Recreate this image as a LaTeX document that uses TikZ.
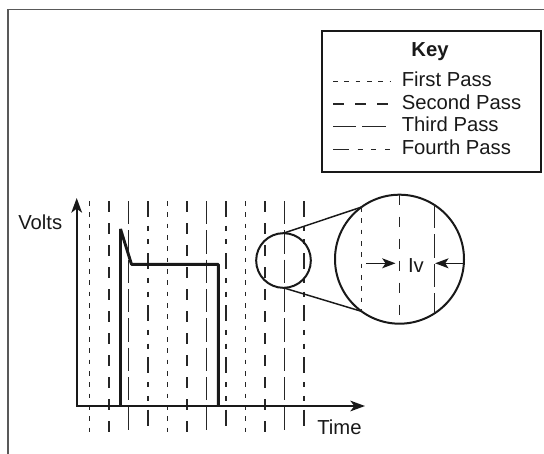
\documentclass[tikz,border=0pt]{standalone}
\usepackage{fontspec}
\setmainfont{Liberation Sans}
\usetikzlibrary{arrows.meta}

\begin{document}
\begin{tikzpicture}[
  x=0.75pt, y=-0.75pt,
  every node/.style={inner sep=0pt, text=black!90, font=\fontsize{15.2}{18}\selectfont},
  firstpass/.style={draw=black!85, line width=1.1pt, dash pattern=on 3.5pt off 5pt},
  secondpass/.style={draw=black!85, line width=1.1pt, dash pattern=on 8pt off 8.5pt},
  thirdpass/.style={draw=black!85, line width=1.1pt, dash pattern=on 17.5pt off 4.5pt},
  fourthpass/.style={draw=black!85, line width=1.1pt, dash pattern=on 12pt off 6.5pt on 3.8pt off 6.5pt on 3.8pt off 6.5pt},
  lens/.style={draw=black!90, circle, line width=1.5pt, outer sep=0pt},
  axis/.style={draw=black!90, line width=1.6pt, {Stealth[length=11pt,width=8pt,inset=3pt]}-{Stealth[length=11pt,width=8pt,inset=3pt]}},
  gap/.style={draw=black!90, line width=0.9pt, -{Stealth[length=10pt,width=7.5pt,inset=2.5pt]}},
  pulse/.style={draw=black!90, line width=2.2pt, line join=bevel}
]
\useasboundingbox (0,0) rectangle (544,454);
% frame
\draw[black!65, line width=1.2pt] (8,454) -- (8,9.3) -- (544,9.3);

% key
\node[draw=black!90, line width=1.6pt, minimum width=164.25pt, minimum height=105.75pt] (keybox) at (431.2,101.2) {};
\node[anchor=base] (keytitle) at (430,56) {\bfseries Key};
\foreach \pass/\name/\y in {firstpass/First Pass/81.7, secondpass/Second Pass/103.8,
                            thirdpass/Third Pass/126.5, fourthpass/Fourth Pass/149.3}{
  \draw[\pass] (333,\y) -- (390,\y);
  \node[anchor=base west] (\pass-label) at (401.5,\y+5.2) {\name};
}

% passes
\foreach \k in {0,1,2}
  \foreach \pass [count=\j from 0] in {firstpass,secondpass,thirdpass,fourthpass}
    \draw[\pass] ({89.5+19.5*(4*\k+\j)},201) -- ++(0,231);

% axes
\coordinate (origin) at (76.7,406);
\coordinate (ytip) at (76.7,198);
\coordinate (xtip) at (365,406);
\draw[axis] (ytip) -- (origin) -- (xtip);
\node[anchor=base east] (volts) at (62.5,229.3) {Volts};
\node[anchor=base west] (time) at (317,434.5) {Time};

% pulse
\draw[pulse] (120.5,406) -- (120.5,229) -- (131.5,264.3) -- (218.3,264.3) -- (218.3,406);

% magnifier
\node[lens, minimum size=41pt] (spot) at (283.5,260.5) {};
\node[lens, minimum size=96.75pt] (magnified) at (399.5,259.2) {};
\draw[black!90, line width=1.1pt] (spot.north) -- (magnified.126);
\draw[black!90, line width=1.1pt] (spot.south) -- (magnified.234);
\draw[firstpass] (magnified.126) -- (magnified.234);
\draw[secondpass] (magnified.north) -- (magnified.south);
\draw[thirdpass] (magnified.57) -- (magnified.-57);

\coordinate (gap-a) at (366,263.3);
\coordinate (gap-b) at (395.5,263.3);
\coordinate (gap-c) at (464,263.3);
\coordinate (gap-d) at (435.2,263.3);
\draw[gap] (gap-a) -- (gap-b);
\draw[gap] (gap-c) -- (gap-d);
\node[anchor=base west] (iv) at (407.8,272.7) {Iv};
\end{tikzpicture}
\end{document}
